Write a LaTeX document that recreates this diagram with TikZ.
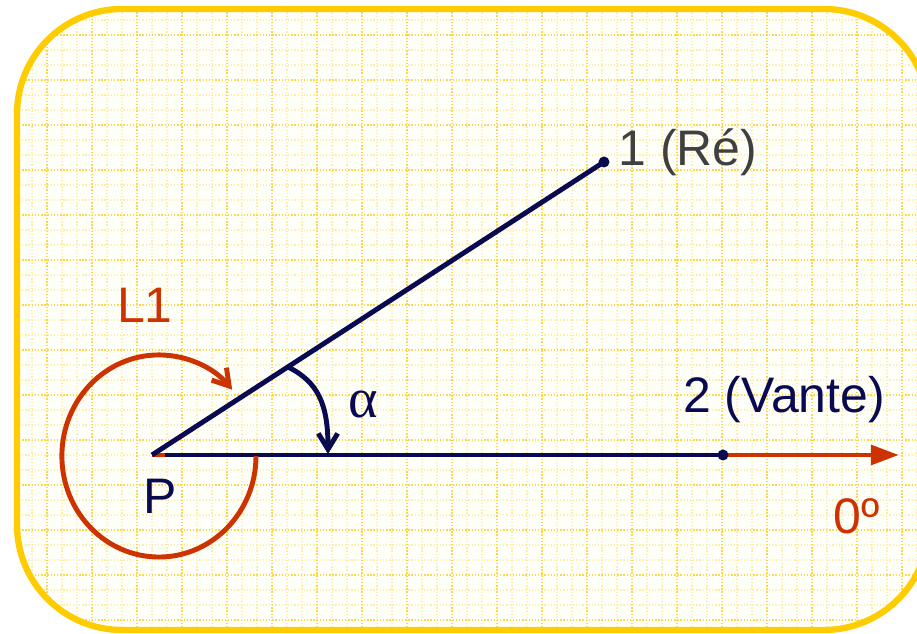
\documentclass[tikz,border=0pt]{standalone}
\usepackage{fontspec}
\setmainfont{Liberation Sans}
\newfontfamily\greekfont{Liberation Serif}
\usetikzlibrary{arrows.meta}
\definecolor{navy}{RGB}{10,10,80}
\definecolor{rust}{RGB}{204,51,0}
\definecolor{gold}{RGB}{255,204,0}
\definecolor{gridminor}{RGB}{255,238,170}
\definecolor{gridmajor}{RGB}{252,215,80}
\definecolor{labelgray}{RGB}{64,64,64}
\tikzset{
    ray/.style={navy, line width=1.4pt},
    turn/.style={rust, line width=1.4pt},
    lbl/.style={font=\fontsize{14.2}{17}\selectfont, inner sep=0pt},
    minorline/.style={gridminor, line width=0.3pt, dash pattern=on 0.35pt off 0.55pt},
    majorline/.style={gridmajor, line width=0.6pt, dash pattern=on 0.4pt off 0.5pt},
}
\begin{document}
\begin{tikzpicture}[x=0.01cm, y=0.01cm]
    \useasboundingbox (0,0) rectangle (917,634);
    % paper
    \begin{scope}
        \clip[rounded corners=1.05cm] (17,4) rectangle (929,625);
        \fill[white!98!yellow] (17,4) rectangle (929,625);
        \foreach \x in {2,17,...,932} \draw[minorline] (\x,0) -- (\x,634);
        \foreach \y in {14,29,...,629} \draw[minorline] (0,\y) -- (932,\y);
        \foreach \x in {2,47,...,932} \draw[majorline] (\x,0) -- (\x,634);
        \foreach \y in {14,59,...,629} \draw[majorline] (0,\y) -- (932,\y);
    \end{scope}
    \draw[gold, line width=1.8pt, rounded corners=1.05cm] (17,4) rectangle (929,625);

    \coordinate (P) at (152,179);
    \coordinate (P2) at (165,179);
    \coordinate (pt1) at (604,472);
    \coordinate (pt2) at (723,179);
    \coordinate (tip) at (899,179);
    \coordinate (aS) at (288,267);
    \coordinate (aE) at (328,180);

    % 0 direction
    \draw[turn, -{Triangle[length=8pt, width=5.5pt]}] (P) -- (tip);
    % rays
    \draw[ray] (P) -- (pt1);
    \draw[ray] (P2) -- (pt2);
    \fill[navy] (pt1) circle (0.055cm);
    \fill[navy] (pt2) circle (0.055cm);
    % angle
    \draw[ray, -{Straight Barb[length=4.5pt, width=5.5pt]}] (aS) .. controls (318,252) and (328,230) .. (aE);
    % turning
    \draw[turn, -{Straight Barb[length=4.5pt, width=5.5pt]}] (256,178) arc[start angle=0, end angle=-319, x radius=0.97cm, y radius=1.01cm];

    \node[lbl, navy] (Plbl) at (160,138) {P};
    \node[lbl, rust] (L1lbl) at (145,329) {L1};
    \node[navy, inner sep=0pt, font=\greekfont\fontsize{16}{18}\selectfont] (alpha) at (363,229) {α};
    \node[lbl, labelgray, anchor=west] (lbl1) at (618,482) {1 (Ré)};
    \node[lbl, navy] (lbl2) at (784,234) {2 (Vante)};
    \node[lbl, rust] (lbl0) at (857,118) {0º};
\end{tikzpicture}
\end{document}
